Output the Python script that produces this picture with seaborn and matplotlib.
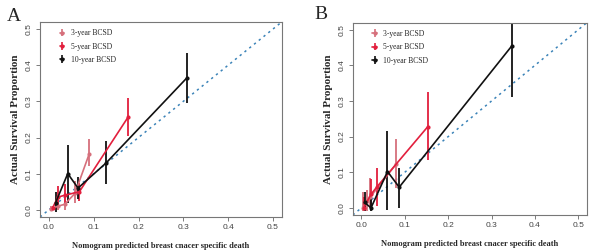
import numpy as np
import pandas as pd
import matplotlib
matplotlib.use('Agg')
import matplotlib.pyplot as plt
import seaborn as sns

sns.set_style('ticks')

# panel A
a3_x = [0.005, 0.020, 0.035, 0.058, 0.090]
a3_y = [0.003, 0.010, 0.015, 0.045, 0.155]
a3_lo = [0.000, 0.000, 0.000, 0.020, 0.120]
a3_hi = [0.010, 0.040, 0.045, 0.080, 0.195]
a5_x = [0.008, 0.020, 0.035, 0.068, 0.177]
a5_y = [0.005, 0.035, 0.040, 0.050, 0.257]
a5_lo = [0.000, 0.005, 0.010, 0.025, 0.205]
a5_hi = [0.010, 0.065, 0.070, 0.075, 0.310]
a10_x = [0.015, 0.042, 0.065, 0.128, 0.308]
a10_y = [0.020, 0.100, 0.060, 0.130, 0.365]
a10_lo = [-0.005, 0.020, 0.030, 0.070, 0.295]
a10_hi = [0.050, 0.180, 0.090, 0.190, 0.435]

# panel B
b3_x = [0.003, 0.013, 0.020, 0.080]
b3_y = [0.000, 0.020, 0.030, 0.123]
b3_lo = [-0.010, -0.010, 0.000, 0.055]
b3_hi = [0.045, 0.050, 0.085, 0.193]
b5_x = [0.005, 0.022, 0.035, 0.153]
b5_y = [0.000, 0.038, 0.058, 0.228]
b5_lo = [-0.010, 0.005, 0.005, 0.133]
b5_hi = [0.030, 0.080, 0.113, 0.325]
b10_x = [0.007, 0.022, 0.060, 0.087, 0.347]
b10_y = [0.015, 0.000, 0.102, 0.058, 0.455]
b10_lo = [-0.010, -0.010, -0.005, 0.000, 0.310]
b10_hi = [0.045, 0.030, 0.215, 0.113, 0.540]

labels = ['3-year BCSD', '5-year BCSD', '10-year BCSD']
colors = ['#d6707c', '#e21f3d', '#111111']
ticks = [0.0, 0.1, 0.2, 0.3, 0.4, 0.5]

fig = plt.figure(figsize=(5.97, 2.52), dpi=100)
axA = fig.add_axes([0.067, 0.139, 0.405, 0.774])
axB = fig.add_axes([0.591, 0.147, 0.392, 0.763])

panels = [
    (axA, 'A', [(a3_x, a3_y, a3_lo, a3_hi), (a5_x, a5_y, a5_lo, a5_hi), (a10_x, a10_y, a10_lo, a10_hi)]),
    (axB, 'B', [(b3_x, b3_y, b3_lo, b3_hi), (b5_x, b5_y, b5_lo, b5_hi), (b10_x, b10_y, b10_lo, b10_hi)]),
]

for ax, tag, series in panels:
    ax.plot([-0.02, 0.52], [-0.02, 0.52], ls=(0, (1.5, 2.5)), color='#3b83b8', lw=1.1, zorder=1)
    for (x, y, lo, hi), lab, c in zip(series, labels, colors):
        df = pd.DataFrame({'x': x, 'y': y})
        sns.lineplot(data=df, x='x', y='y', ax=ax, color=c, lw=1.2, sort=False,
                     marker='o', markersize=3, markeredgewidth=0, zorder=3)
        ax.vlines(x, lo, hi, color=c, lw=1.3, zorder=2)
        ax.errorbar([], [], yerr=[], color=c, marker='o', markersize=2, lw=1.2, label=lab)
    ax.set_xlim(-0.02, 0.52)
    ax.set_ylim(-0.02, 0.52)
    ax.set_xticks(ticks)
    ax.set_yticks(ticks)
    ax.set_xticklabels([f'{t:.1f}' for t in ticks], fontsize=6, color='#444444', family='Liberation Sans')
    ax.set_yticklabels([f'{t:.1f}' for t in ticks], fontsize=6, color='#444444', family='Liberation Sans',
                       rotation=90, va='center')
    ax.tick_params(length=3, width=0.6, color='#666666', pad=2)
    for s in ax.spines.values():
        s.set_color('#777777')
        s.set_linewidth(0.8)
    ax.set_xlabel('Nomogram predicted breast cnacer specific death', fontsize=6, family='Liberation Serif',
                  fontweight='bold', labelpad=8)
    ax.set_ylabel('Actual Survival Proportion', fontsize=8, family='Liberation Serif',
                  fontweight='bold', labelpad=4)
    leg = ax.legend(loc='upper left', frameon=False, fontsize=5.5, handlelength=0.6,
                    borderaxespad=0.3, bbox_to_anchor=(0.06, 0.99), labelspacing=0.7,
                    prop={'family': 'Liberation Serif', 'size': 5.5})

fig.text(0.012, 0.915, 'A', fontsize=14, family='Liberation Serif')
fig.text(0.527, 0.925, 'B', fontsize=14, family='Liberation Serif')

fig.savefig('out.png', dpi=100)
